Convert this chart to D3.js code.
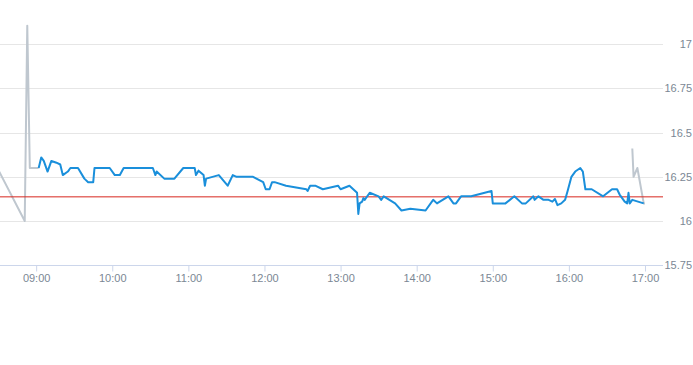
<!DOCTYPE html>
<html>
<head>
<meta charset="utf-8">
<script src="https://cdn.jsdelivr.net/npm/d3@7"></script>
<style>
  body { margin: 0; background: #fff; }
  svg { display: block; font-family: "Liberation Sans", Arial, sans-serif; }
</style>
</head>
<body>
<div id="chart"></div>
<script>
// ===========================================================
// DATA
// ===========================================================
// pre-market (grey)
var preTimes  = ["08:28", "08:51", "08:53", "08:55", "09:02"];
var preValues = [16.32, 16.00, 17.105, 16.30, 16.30];

// session (blue)
var sessionTimes = [
  "09:02", "09:04", "09:06", "09:09", "09:12", "09:16", "09:19", "09:21", "09:25", "09:27",
  "09:33", "09:38", "09:41", "09:45", "09:46", "09:58", "10:02", "10:06", "10:09", "10:32",
  "10:34", "10:35", "10:41", "10:49", "10:56", "11:05", "11:06", "11:08", "11:12", "11:13",
  "11:14", "11:24", "11:31", "11:35", "11:38", "11:51", "11:59", "12:01", "12:04", "12:06",
  "12:08", "12:17", "12:33", "12:34", "12:36", "12:40", "12:46", "12:58", "13:00", "13:07",
  "13:13", "13:14", "13:15", "13:17", "13:18", "13:19", "13:23", "13:30", "13:32", "13:34",
  "13:43", "13:48", "13:55", "14:07", "14:13", "14:16", "14:25", "14:29", "14:31", "14:35",
  "14:43", "14:59", "15:00", "15:10", "15:17", "15:23", "15:26", "15:32", "15:33", "15:36",
  "15:40", "15:44", "15:47", "15:49", "15:51", "15:54", "15:57", "15:59", "16:02", "16:03",
  "16:05", "16:09", "16:11", "16:13", "16:18", "16:27", "16:34", "16:38", "16:40", "16:44",
  "16:46", "16:47", "16:48", "16:50", "16:59"
];
var sessionValues = [
  16.30, 16.36, 16.34, 16.28, 16.34, 16.33, 16.32, 16.26, 16.28, 16.30,
  16.30, 16.24, 16.22, 16.22, 16.30, 16.30, 16.26, 16.26, 16.30, 16.30,
  16.26, 16.28, 16.24, 16.24, 16.30, 16.30, 16.26, 16.285, 16.26, 16.20,
  16.24, 16.26, 16.20, 16.26, 16.25, 16.25, 16.22, 16.18, 16.18, 16.22,
  16.22, 16.20, 16.18, 16.17, 16.20, 16.20, 16.18, 16.20, 16.18, 16.20,
  16.16, 16.04, 16.10, 16.11, 16.13, 16.12, 16.16, 16.14, 16.12, 16.14,
  16.10, 16.06, 16.07, 16.06, 16.12, 16.10, 16.14, 16.10, 16.10, 16.14,
  16.14, 16.17, 16.10, 16.10, 16.14, 16.10, 16.10, 16.14, 16.12, 16.14,
  16.12, 16.12, 16.11, 16.125, 16.09, 16.10, 16.12, 16.17, 16.25, 16.26,
  16.28, 16.30, 16.28, 16.18, 16.18, 16.14, 16.18, 16.18, 16.15, 16.11,
  16.10, 16.16, 16.10, 16.12, 16.10
];

// after-hours (grey)
var postTimes  = ["16:50", "16:51", "16:54", "16:59", "17:00"];
var postValues = [16.41, 16.25, 16.30, 16.10, 16.10];

var refValue = 16.137;

var yTicks = [15.75, 16, 16.25, 16.5, 16.75, 17];

// ===========================================================
// SET MARGINS
// ===========================================================
var svgWidth = 693;
var svgHeight = 365;

var plot = { left: 0, right: 663, top: 44.2, bottom: 265.3 };

var svg = d3.select('#chart')
    .append('svg')
    .attr('width', svgWidth)
    .attr('height', svgHeight);

var parseTime = d3.timeParse("%H:%M");

function toPoints(times, values) {
    return times.map(function(t, i) { return { t: parseTime(t), v: values[i] }; });
}

// ===========================================================
// SCALES
// ===========================================================
var x = d3.scaleTime()
    .domain([parseTime("08:31"), parseTime("17:14")])
    .range([plot.left, plot.right]);
// shift half a minute so 09:00 lands where it should
x.domain([new Date(+parseTime("08:31") + 30000), new Date(+parseTime("17:14") + 12000)]);

var y = d3.scaleLinear()
    .domain([15.75, 17])
    .range([plot.bottom, plot.top]);

// ===========================================================
// GRID
// ===========================================================
svg.append('g')
    .selectAll('line')
    .data(yTicks.slice(1))
    .enter()
    .append('line')
    .attr('x1', plot.left)
    .attr('x2', plot.right)
    .attr('y1', d => Math.round(y(d)) + 0.5)
    .attr('y2', d => Math.round(y(d)) + 0.5)
    .attr('stroke', '#e6e6e6')
    .attr('stroke-width', 1);

// ===========================================================
// AXES
// ===========================================================
var xAxis = svg.append('g')
    .attr('transform', `translate(0, ${Math.round(plot.bottom) + 0.5})`)
    .call(d3.axisBottom(x)
        .ticks(d3.timeHour.every(1))
        .tickFormat(d3.timeFormat("%H:%M"))
        .tickSize(6)
        .tickSizeOuter(0));
xAxis.select('.domain').attr('stroke', '#ccd6eb').attr('d', `M${plot.left},0H${plot.right}`);
xAxis.selectAll('.tick line').attr('stroke', '#ccd6eb');
xAxis.selectAll('.tick text')
    .attr('y', 9)
    .attr('fill', '#7b8794')
    .style('font-size', '11px');

var yAxis = svg.append('g')
    .attr('transform', `translate(${svgWidth - 1}, 0)`)
    .call(d3.axisRight(y)
        .tickValues(yTicks)
        .tickFormat(d => String(d))
        .tickSize(0));
yAxis.select('.domain').remove();
yAxis.selectAll('.tick text')
    .attr('x', 0)
    .attr('text-anchor', 'end')
    .attr('fill', '#7b8794')
    .style('font-size', '11px');

// ===========================================================
// LINES
// ===========================================================
svg.append('clipPath')
    .attr('id', 'plotclip')
    .append('rect')
    .attr('x', plot.left)
    .attr('y', 0)
    .attr('width', plot.right - plot.left)
    .attr('height', svgHeight);

var line = d3.line()
    .x(d => x(d.t))
    .y(d => y(d.v));

var lines = svg.append('g').attr('clip-path', 'url(#plotclip)');

lines.append('path')
    .datum(toPoints(preTimes, preValues))
    .attr('fill', 'none')
    .attr('stroke', '#bfc7cf')
    .attr('stroke-width', 2)
    .attr('stroke-linejoin', 'round')
    .attr('d', line);

lines.append('path')
    .datum(toPoints(postTimes, postValues))
    .attr('fill', 'none')
    .attr('stroke', '#bfc7cf')
    .attr('stroke-width', 2)
    .attr('stroke-linejoin', 'round')
    .attr('d', line);

lines.append('line')
    .attr('x1', plot.left)
    .attr('x2', plot.right)
    .attr('y1', y(refValue))
    .attr('y2', y(refValue))
    .attr('stroke', '#d7261e')
    .attr('stroke-width', 1);

lines.append('path')
    .datum(toPoints(sessionTimes, sessionValues))
    .attr('fill', 'none')
    .attr('stroke', '#1a8fdb')
    .attr('stroke-width', 2)
    .attr('stroke-linejoin', 'round')
    .attr('d', line);
</script>
</body>
</html>
